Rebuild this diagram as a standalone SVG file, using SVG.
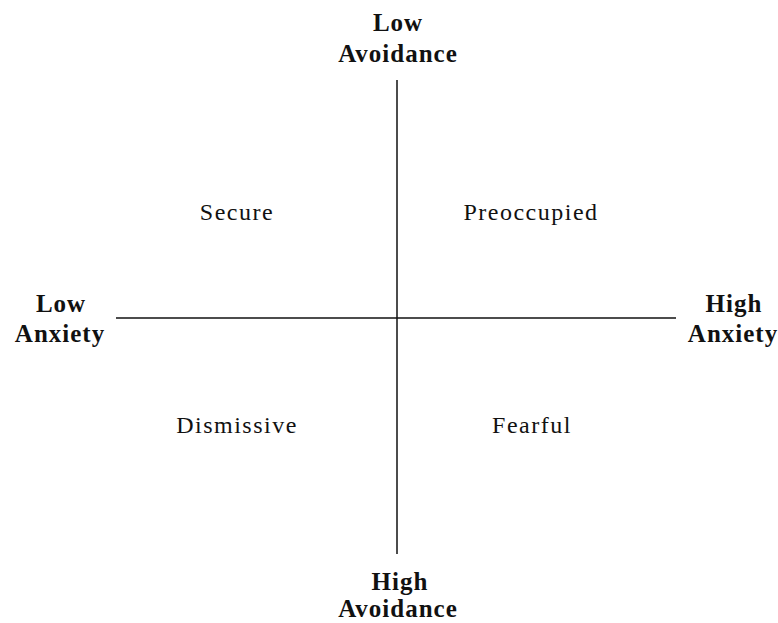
<svg xmlns="http://www.w3.org/2000/svg" width="778" height="623" viewBox="0 0 778 623">
<style>
.ax{font-family:"Liberation Serif","Times New Roman",serif;font-weight:bold;font-size:25px;fill:#111;text-anchor:middle;letter-spacing:1px}
.q{font-family:"Liberation Serif","Times New Roman",serif;font-size:24px;fill:#111;text-anchor:middle;letter-spacing:1.5px}
.l{stroke:#111;stroke-width:1.5;fill:none}
</style>
<rect width="778" height="623" fill="#fff"/>
<g id="connectors">
<line class="l" x1="397" y1="80" x2="397" y2="554"/>
<line class="l" x1="116" y1="318" x2="676" y2="318"/>
</g>
<g id="low-avoidance"><text class="ax" x="398" y="31">Low</text><text class="ax" x="398" y="62">Avoidance</text></g>
<g id="high-avoidance"><text class="ax" x="400" y="590">High</text><text class="ax" x="398" y="617">Avoidance</text></g>
<g id="low-anxiety"><text class="ax" x="61" y="312">Low</text><text class="ax" x="60" y="342">Anxiety</text></g>
<g id="high-anxiety"><text class="ax" x="734" y="312">High</text><text class="ax" x="733" y="342">Anxiety</text></g>
<g id="secure"><text class="q" x="237" y="220">Secure</text></g>
<g id="preoccupied"><text class="q" x="531" y="220">Preoccupied</text></g>
<g id="dismissive"><text class="q" x="237" y="433">Dismissive</text></g>
<g id="fearful"><text class="q" x="532" y="433">Fearful</text></g>
</svg>
